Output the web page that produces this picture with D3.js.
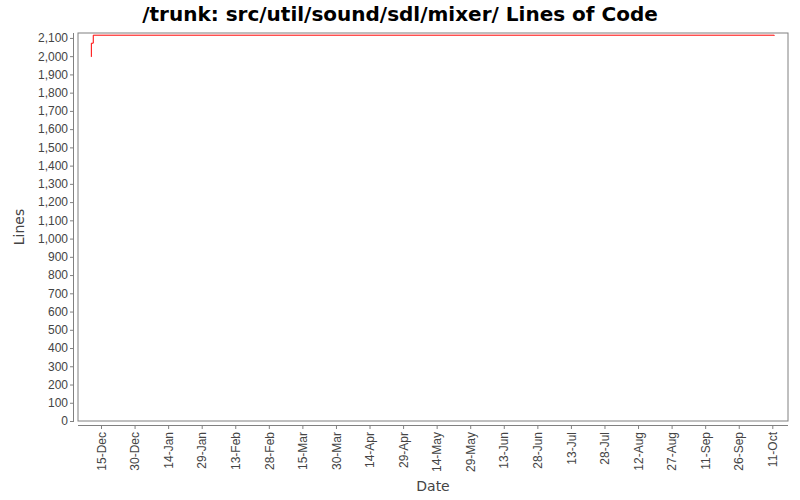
<!DOCTYPE html>
<html>
<head>
<meta charset="utf-8">
<script src="https://cdn.jsdelivr.net/npm/d3@7"></script>
<style>
  body { margin: 0; background: #fff; }
  svg { font-family: "DejaVu Sans", sans-serif; }
  .tick text { fill: #444; font-size: 12px; }
  .tick line, .domain { stroke: #808080; }
</style>
</head>
<body>
<div id="chart"></div>
<script>
// commit history of line counts
const dates = ["2006-12-10T16:00", "2006-12-10T16:30", "2006-12-11T13:00", "2007-10-11T21:00"];
const lines = [1996, 2071, 2115, 2112];
const tickDates = ["2006-12-15", "2006-12-30", "2007-01-14", "2007-01-29", "2007-02-13", "2007-02-28",
  "2007-03-15", "2007-03-30", "2007-04-14", "2007-04-29", "2007-05-14", "2007-05-29", "2007-06-13",
  "2007-06-28", "2007-07-13", "2007-07-28", "2007-08-12", "2007-08-27", "2007-09-11", "2007-09-26",
  "2007-10-11"];
const yTicks = d3.range(0, 2101, 100);

const W = 800, H = 500;
const box = { left: 78, right: 788, top: 33, bottom: 421 };

const parse = d3.timeParse("%Y-%m-%dT%H:%M");
const parseDay = d3.timeParse("%Y-%m-%d");
const data = dates.map((d, i) => ({ date: parse(d), value: lines[i] }));

const svg = d3.select("#chart").append("svg").attr("width", W).attr("height", H);

const x = d3.scaleTime()
  .domain([parseDay("2006-12-04"), parseDay("2007-10-18")])
  .range([box.left, box.right]);
// re-fit so ticks land where the reference shows them
x.domain([x.invert(box.left), x.invert(box.right)]);
const t0 = parseDay("2006-12-15"), t1 = parseDay("2007-10-11");
const pxPerMs = (772.3 - 101) / (t1 - t0);
x.domain([new Date(+t0 - (101 - box.left) / pxPerMs), new Date(+t0 + (box.right - 101) / pxPerMs)]);

const y = d3.scaleLinear().domain([0, 2127]).range([box.bottom, box.top]);

// plot box
svg.append("rect")
  .attr("x", box.left).attr("y", box.top)
  .attr("width", box.right - box.left).attr("height", box.bottom - box.top)
  .attr("fill", "#fff").attr("stroke", "#808080").attr("stroke-width", 1);

// y axis (offset left of the box)
svg.append("g")
  .attr("transform", `translate(${box.left - 4},0)`)
  .call(d3.axisLeft(y).tickValues(yTicks).tickSize(4).tickPadding(2).tickFormat(d3.format(",")))
  .call(g => g.selectAll(".domain").attr("d", `M-0.5,${box.top}V${box.bottom}`));

// x axis (offset below the box)
const xAxis = svg.append("g")
  .attr("transform", `translate(0,${box.bottom + 4})`)
  .call(d3.axisBottom(x).tickValues(tickDates.map(parseDay)).tickSize(4).tickFormat(d3.timeFormat("%-d-%b")))
  .call(g => g.selectAll(".domain").attr("d", `M${box.left},0.5H${box.right}`));

xAxis.selectAll(".tick text")
  .attr("transform", "rotate(-90)")
  .attr("text-anchor", "end")
  .attr("x", -7)
  .attr("y", 0)
  .attr("dy", "0.35em");

// line
const line = d3.line()
  .x(d => x(d.date))
  .y(d => y(d.value))
  .curve(d3.curveStepAfter);

svg.append("path")
  .datum(data)
  .attr("d", line)
  .attr("fill", "none")
  .attr("stroke", "#ff0000")
  .attr("stroke-width", 1);

// titles
svg.append("text")
  .attr("x", W / 2).attr("y", 21)
  .attr("text-anchor", "middle")
  .style("font-size", "20px").style("font-weight", "bold")
  .text("/trunk: src/util/sound/sdl/mixer/ Lines of Code");

svg.append("text")
  .attr("x", (box.left + box.right) / 2).attr("y", 491)
  .attr("text-anchor", "middle")
  .style("font-size", "14px").attr("fill", "#444")
  .text("Date");

svg.append("text")
  .attr("transform", `translate(24,${(box.top + box.bottom) / 2}) rotate(-90)`)
  .attr("text-anchor", "middle")
  .style("font-size", "14px").attr("fill", "#444")
  .text("Lines");
</script>
</body>
</html>
